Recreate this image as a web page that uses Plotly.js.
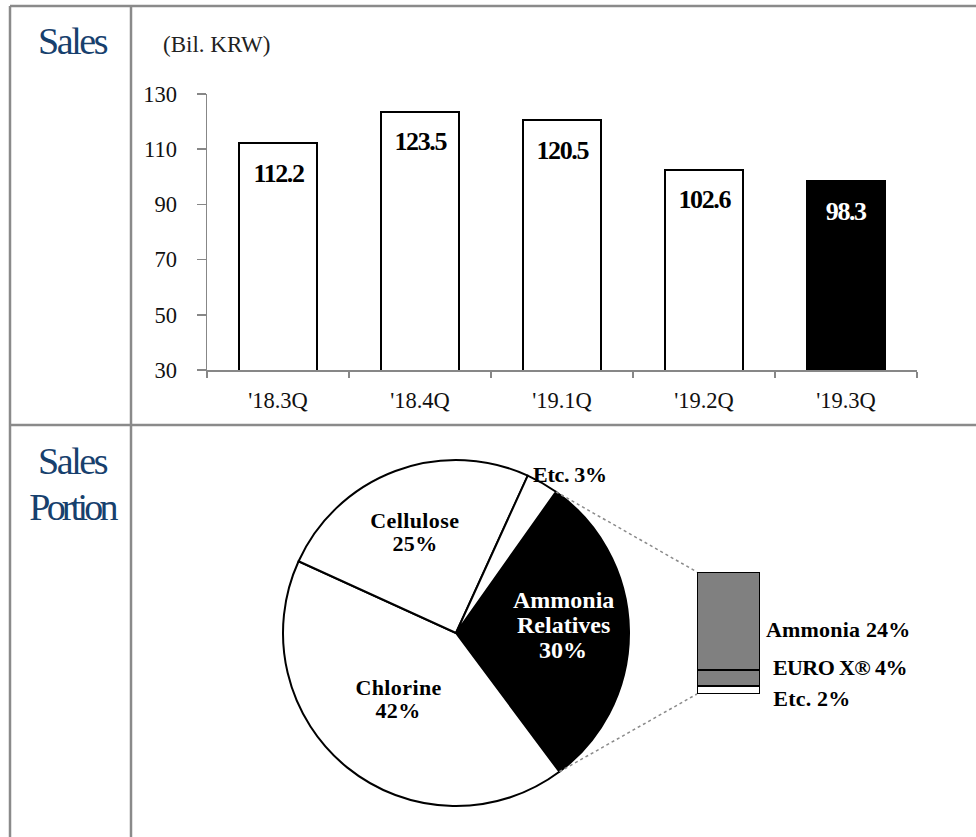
<!DOCTYPE html>
<html><head><meta charset="utf-8">
<script src="https://cdn.plot.ly/plotly-3.0.1.min.js"></script>
<style>body{margin:0;background:#fff}#chart{width:976px;height:837px}</style>
</head><body><div id="chart"></div>
<script>
// ---- data ----
const quarters = ["'18.3Q", "'18.4Q", "'19.1Q", "'19.2Q", "'19.3Q"];
const sales = [112.2, 123.5, 120.5, 102.6, 98.3];
const unitLabel = "(Bil. KRW)";
const pieLabels = ["Ammonia Relatives", "Chlorine", "Cellulose", "Etc."];
const pieValues = [30, 42, 25, 3];
const subLabels = ["Etc.", "EURO X®", "Ammonia"];   // bottom -> top
const subValues = [2, 4, 24];
const rowTitles = ["Sales", "Sales Portion"];

// ---- geometry helpers (layout only) ----
const W = 976, H = 837;
const px = v => v / W;
const py = v => 1 - v / H;
const serif = "Liberation Serif, Times New Roman, serif";
const navy = "#17406d";

const pieCx = 456, pieCy = 633, pieR = 173;
const pieRotation = 35.3;
const total = pieValues.reduce((a, b) => a + b, 0);

const subX0 = 697, subX1 = 760, subTop = 572, subBot = 694;

const traces = [];
// top bar chart
traces.push({
  type: "bar", x: quarters, y: sales, xaxis: "x", yaxis: "y",
  width: 0.55,
  marker: {color: sales.map((v, i) => i === sales.length - 1 ? "#000" : "#fff"),
           line: {color: "#000", width: 2}},
  hoverinfo: "skip", showlegend: false
});
// pie
traces.push({
  type: "pie", labels: pieLabels, values: pieValues, sort: false,
  direction: "clockwise", rotation: pieRotation,
  marker: {colors: ["#000", "#fff", "#fff", "#fff"], line: {color: "#000", width: 2}},
  textinfo: "none", hoverinfo: "skip", showlegend: false,
  domain: {x: [px(pieCx - pieR), px(pieCx + pieR)], y: [py(pieCy + pieR), py(pieCy - pieR)]}
});
// bar of pie (stacked)
const subColors = ["#fff", "#808080", "#808080"];
subLabels.forEach((lab, i) => {
  traces.push({
    type: "bar", x: ["s"], y: [subValues[i]], xaxis: "x2", yaxis: "y2",
    width: 1, marker: {color: subColors[i], line: {color: "#000", width: 2}},
    hoverinfo: "skip", showlegend: false
  });
});

const ann = [];
const spacing = [];
function addAnn(o, ls) { ann.push(o); spacing.push(ls || 0); }
function multiLine(lines, cx, cy, lh, font, ls) {
  const n = lines.length;
  lines.forEach((t, k) => {
    const l = Array.isArray(ls) ? ls[k] : ls;
    addAnn({xref: "paper", yref: "paper", x: px(cx), y: py(cy + (k - (n - 1) / 2) * lh),
            text: t, showarrow: false, font: font, xanchor: "center", yanchor: "middle"}, l);
  });
}
// row titles
multiLine([rowTitles[0]], 72, 41, 0, {family: serif, size: 38, color: navy}, -2.4);
multiLine(rowTitles[1].split(" "), 72, 484, 46, {family: serif, size: 38, color: navy}, [-2.4, -3.8]);
// unit label
addAnn({xref: "paper", yref: "paper", x: px(216), y: py(44), text: unitLabel, showarrow: false,
        font: {family: serif, size: 23, color: "#222"}, xanchor: "center", yanchor: "middle"});
// bar value labels
quarters.forEach((q, i) => {
  addAnn({xref: "x", yref: "y", x: q, y: sales[i], yshift: -30, text: sales[i].toFixed(1),
          showarrow: false, yanchor: "middle",
          font: {family: serif, size: 26, weight: "bold", color: i === sales.length - 1 ? "#fff" : "#000"}}, -1.4);
});
// pie labels
const pieLabelPos = [[563, 625, 25, 24, "#fff"], [398, 699, 23, 22, "#000"], [415, 532, 23, 22, "#000"], [570, 474, 0, 22, "#000"]];
pieLabels.forEach((lab, i) => {
  const [cx, cy, lh, sz, col] = pieLabelPos[i];
  const lines = i === 0 ? [...lab.split(" "), pieValues[i] + "%"]
              : i === 3 ? [lab + " " + pieValues[i] + "%"]
              : [lab, pieValues[i] + "%"];
  multiLine(lines, cx, cy, lh, {family: serif, size: sz, weight: "bold", color: col}, i === 3 ? -0.3 : (i === 0 ? 0 : 0.4));
});
// sub-bar labels
const subShift = [-9, 10, -9];
let cum = 0;
subLabels.forEach((lab, i) => {
  const mid = cum + subValues[i] / 2; cum += subValues[i];
  addAnn({xref: "x2", yref: "y2", x: 0.5, y: mid, xanchor: "left", yanchor: "middle", xshift: [12, 8, 5][i],
          yshift: subShift[i], text: lab + " " + subValues[i] + "%", showarrow: false,
          font: {family: serif, size: 22, weight: "bold", color: "#000"}}, [0.2, -0.6, 0.2][i]);
});

// connector lines (pie edge -> sub bar corners)
const a0 = pieRotation * Math.PI / 180;
const a1 = (pieRotation + 360 * pieValues[0] / total) * Math.PI / 180;
const edge = a => [pieCx + pieR * Math.sin(a), pieCy - pieR * Math.cos(a)];
const e0 = edge(a0), e1 = edge(a1);
const frame = {color: "#8a8a8a", width: 2.5};
const shapes = [
  {type: "line", xref: "paper", yref: "paper", x0: px(e0[0]), y0: py(e0[1]), x1: px(subX0), y1: py(subTop), line: {color: "#8a8a8a", width: 1.5, dash: "dot"}},
  {type: "line", xref: "paper", yref: "paper", x0: px(e1[0]), y0: py(e1[1]), x1: px(subX0), y1: py(subBot), line: {color: "#8a8a8a", width: 1.5, dash: "dot"}},
  {type: "line", xref: "paper", yref: "paper", x0: px(10), y0: py(6), x1: 1, y1: py(6), line: frame},
  {type: "line", xref: "paper", yref: "paper", x0: px(10), y0: py(6), x1: px(10), y1: 0, line: frame},
  {type: "line", xref: "paper", yref: "paper", x0: px(131), y0: py(6), x1: px(131), y1: 0, line: frame},
  {type: "line", xref: "paper", yref: "paper", x0: px(10), y0: py(425), x1: 1, y1: py(425), line: frame}
];

const axFont = {family: serif, size: 22.5, color: "#111"};
const layout = {
  width: W, height: H, margin: {l: 0, r: 0, t: 0, b: 0},
  paper_bgcolor: "#fff", plot_bgcolor: "rgba(0,0,0,0)",
  barmode: "stack", showlegend: false,
  xaxis: {domain: [px(207), px(917)], type: "category", showline: true, linecolor: "#878787", linewidth: 1.5,
          ticks: "outside", tickson: "boundaries", ticklen: 6, tickcolor: "#878787", tickwidth: 1.5,
          tickfont: axFont, showgrid: false, zeroline: false, ticklabelstandoff: 9, fixedrange: true},
  yaxis: {domain: [py(370), py(94)], range: [30, 130], tick0: 30, dtick: 20, showline: true, linecolor: "#878787",
          linewidth: 1.5, ticks: "outside", ticklen: 9, tickcolor: "#878787", tickwidth: 1.5,
          tickfont: axFont, showgrid: false, zeroline: false, ticklabelstandoff: 15, fixedrange: true},
  xaxis2: {domain: [px(subX0), px(subX1)], range: [-0.5, 0.5], visible: false, type: "category", fixedrange: true, anchor: "y2"},
  yaxis2: {domain: [py(subBot), py(subTop)], range: [0, 30], visible: false, fixedrange: true, anchor: "x2"},
  annotations: ann, shapes: shapes
};

Plotly.newPlot("chart", traces, layout, {staticPlot: true}).then(() => {
  document.querySelectorAll("#chart .annotation").forEach(g => {
    const i = +g.getAttribute("data-index");
    if (spacing[i]) g.querySelectorAll("text").forEach(t => t.style.letterSpacing = spacing[i] + "px");
  });
});
</script></body></html>
